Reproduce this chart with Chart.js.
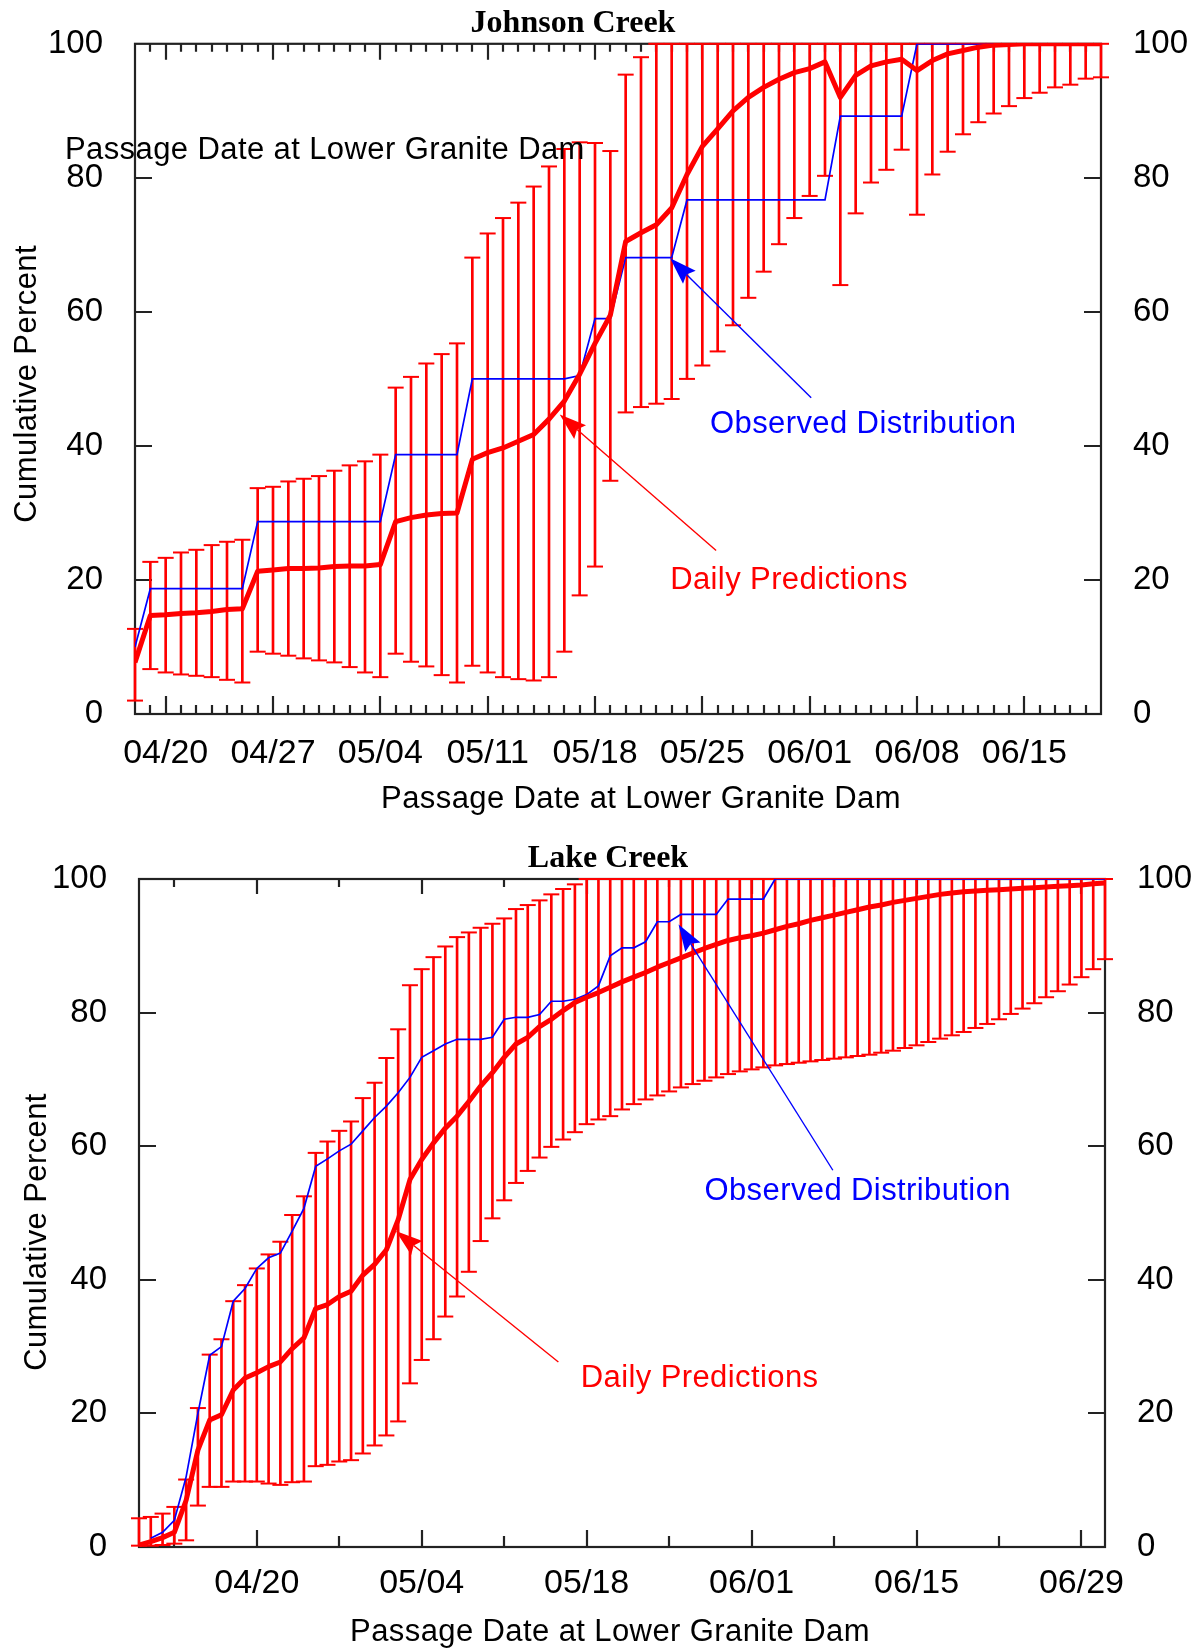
<!DOCTYPE html>
<html>
<head>
<meta charset="utf-8">
<title>Johnson Creek / Lake Creek</title>
<script src="https://cdn.jsdelivr.net/npm/chart.js@4.4.1/dist/chart.umd.min.js"></script>
<style>
  body { margin: 0; background: #fff; }
  canvas { display: block; }
</style>
</head>
<body>
<canvas id="chartJohnson" width="1195" height="820"></canvas>
<canvas id="chartLake" width="1195" height="828"></canvas>
<script>
/**************************************
 * DATA - Johnson Creek (day 0 = 04/18)
 **************************************/
const johnsonPred = [
  7.7, 14.7, 14.8, 15.0, 15.1, 15.3, 15.6, 15.7, 21.3, 21.5,
  21.7, 21.7, 21.8, 22.0, 22.1, 22.1, 22.3, 28.7, 29.3, 29.7,
  29.9, 30.0, 38.0, 39.0, 39.7, 40.7, 41.7, 44.0, 46.7, 50.7,
  55.3, 59.5, 70.5, 71.8, 73.0, 75.5, 80.5, 84.7, 87.3, 90.0,
  92.0, 93.5, 94.7, 95.7, 96.3, 97.3, 92.0, 95.3, 96.7, 97.3,
  97.7, 96.0, 97.5, 98.5, 99.0, 99.5, 99.8, 99.9, 100, 100,
  100, 100, 100, 100
];
const johnsonLow = [
  2.0, 6.7, 6.2, 5.9, 5.7, 5.5, 5.1, 4.7, 9.3, 9.0,
  8.7, 8.3, 8.0, 7.7, 7.0, 6.2, 5.5, 9.0, 7.8, 7.1,
  5.8, 4.7, 7.2, 6.2, 5.5, 5.2, 5.0, 5.5, 9.3, 17.7,
  22.0, 34.8, 45.0, 45.8, 46.3, 47.0, 50.0, 52.0, 54.1, 58.0,
  62.1, 66.0, 70.1, 74.0, 77.3, 80.3, 64.0, 74.7, 79.3, 81.2,
  84.2, 74.5, 80.5, 83.9, 86.5, 88.3, 89.6, 90.7, 91.9, 92.7,
  93.5, 93.9, 94.8, 95.0
];
const johnsonHigh = [
  12.7, 22.7, 23.3, 24.1, 24.5, 25.2, 25.7, 26.0, 33.7, 33.9,
  34.7, 35.1, 35.5, 36.3, 37.1, 37.7, 38.7, 48.7, 50.3, 52.3,
  53.7, 55.3, 68.1, 71.7, 74.0, 76.3, 78.7, 81.7, 84.3, 85.3,
  85.2, 84.0, 95.4, 98.0, 100, 100, 100, 100, 100, 100,
  100, 100, 100, 100, 100, 100, 100, 100, 100, 100,
  100, 100, 100, 100, 100, 100, 100, 100, 100, 100,
  100, 100, 100, 100
];
const johnsonObs = [
  10.0, 18.7, 18.7, 18.7, 18.7, 18.7, 18.7, 18.7, 28.7, 28.7,
  28.7, 28.7, 28.7, 28.7, 28.7, 28.7, 28.7, 38.7, 38.7, 38.7,
  38.7, 38.7, 50.0, 50.0, 50.0, 50.0, 50.0, 50.0, 50.0, 50.5,
  59.0, 59.0, 68.1, 68.1, 68.1, 68.1, 76.7, 76.7, 76.7, 76.7,
  76.7, 76.7, 76.7, 76.7, 76.7, 76.7, 89.2, 89.2, 89.2, 89.2,
  89.2, 100, 100, 100, 100, 100, 100, null, null, null,
  null, null, null, null
];
const johnsonTickDays = [2, 9, 16, 23, 30, 37, 44, 51, 58];
const johnsonTickLabels = ["04/20", "04/27", "05/04", "05/11", "05/18", "05/25", "06/01", "06/08", "06/15"];

/**************************************
 * DATA - Lake Creek (day 0 = 04/10)
 **************************************/
const lakePred = [
  0.3, 0.8, 1.4, 2.2, 7.0, 14.5, 19.0, 19.8, 23.5, 25.3,
  26.1, 27.0, 27.7, 29.7, 31.3, 35.7, 36.3, 37.5, 38.3, 40.7,
  42.3, 44.5, 49.0, 55.0, 58.0, 60.5, 62.7, 64.5, 66.7, 69.0,
  71.0, 73.3, 75.3, 76.3, 77.9, 79.0, 80.3, 81.5, 82.3, 83.0,
  83.8, 84.6, 85.3, 86.0, 86.8, 87.5, 88.2, 88.9, 89.6, 90.2,
  90.8, 91.2, 91.5, 91.9, 92.4, 92.9, 93.3, 93.8, 94.2, 94.6,
  95.0, 95.4, 95.8, 96.1, 96.5, 96.8, 97.1, 97.4, 97.7, 97.9,
  98.1, 98.2, 98.3, 98.4, 98.5, 98.6, 98.7, 98.8, 98.9, 99.0,
  99.1, 99.3, 99.4
];
const lakeLow = [
  0.2, 0.2, 0.3, 0.5, 1.0, 6.2, 9.0, 9.0, 9.8, 9.8,
  9.8, 9.5, 9.3, 9.7, 9.8, 12.1, 12.3, 12.8, 13.0, 14.0,
  15.2, 16.7, 18.8, 24.5, 28.0, 31.1, 34.5, 37.5, 41.2, 45.8,
  49.2, 51.9, 54.5, 56.3, 58.3, 59.9, 61.0, 62.1, 63.3, 64.0,
  64.5, 65.5, 66.3, 67.0, 67.6, 68.2, 68.8, 69.3, 69.8, 70.3,
  70.8, 71.2, 71.5, 71.8, 72.1, 72.3, 72.5, 72.7, 72.9, 73.1,
  73.3, 73.5, 73.7, 74.0, 74.3, 74.7, 75.1, 75.6, 76.1, 76.6,
  77.1, 77.7, 78.3, 79.0, 79.8, 80.6, 81.4, 82.3, 83.2, 84.2,
  85.3, 86.5, 88.0
];
const lakeHigh = [
  4.3, 4.5, 5.0, 6.0, 10.1, 20.8, 28.8, 31.1, 36.8, 39.2,
  41.7, 43.8, 45.7, 49.7, 52.5, 59.0, 60.7, 62.3, 63.7, 67.2,
  69.5, 73.2, 77.5, 84.1, 86.5, 88.3, 89.9, 91.3, 92.0, 92.7,
  93.3, 94.1, 95.5, 96.1, 96.8, 97.7, 98.5, 99.2, 100, 100,
  100, 100, 100, 100, 100, 100, 100, 100, 100, 100,
  100, 100, 100, 100, 100, 100, 100, 100, 100, 100,
  100, 100, 100, 100, 100, 100, 100, 100, 100, 100,
  100, 100, 100, 100, 100, 100, 100, 100, 100, 100,
  100, 100, 100
];
const lakeObs = [
  null, 1.3, 2.2, 4.0, 10.5, 20.0, 28.7, 30.0, 36.8, 38.7,
  41.7, 43.3, 44.0, 47.3, 50.7, 57.0, 58.1, 59.3, 60.3, 62.3,
  64.3, 66.0, 68.0, 70.3, 73.3, 74.3, 75.3, 76.0, 76.0, 76.0,
  76.3, 79.0, 79.3, 79.3, 79.7, 81.7, 81.7, 82.0, 82.7, 84.0,
  88.5, 89.7, 89.7, 90.6, 93.6, 93.6, 94.7, 94.7, 94.7, 94.7,
  97.0, 97.0, 97.0, 97.0, 100, 100, 100, 100, 100, 100,
  100, 100, 100, 100, 100, 100, 100, 100, 100, 100,
  100, 100, 100, 100, 100, 100, 100, 100, 100, 100,
  100, 100, 100
];
const lakeTickDays = [10, 24, 38, 52, 66, 80];
const lakeTickLabels = ["04/20", "05/04", "05/18", "06/01", "06/15", "06/29"];
const lakeMinorDays = [3, 17, 31, 45, 59, 73];

/**************************************
 * STYLES
 **************************************/
const SANS = "'Liberation Sans', Arial, Helvetica, sans-serif";
const SERIF = "'Liberation Serif', 'Times New Roman', serif";
const RED = "#ff0000";
const BLUE = "#0000ff";
const AXIS = "#222222";
const X_TITLE = "Passage Date at Lower Granite Dam";
const Y_TITLE = "Cumulative Percent";

function puntos(arr) {
    return arr.map((v, i) => ({ x: i, y: v }));
}

// marco con ticks hacia adentro (estilo gnuplot)
function pluginMarco(cfg) {
    return {
        id: "marco",
        beforeDatasetsDraw(chart) {
            const { ctx, chartArea: a } = chart;
            const x = chart.scales.x;
            const y = chart.scales.y;
            ctx.save();
            ctx.strokeStyle = AXIS;
            ctx.lineWidth = 2.2;
            ctx.strokeRect(a.left, a.top, a.right - a.left, a.bottom - a.top);
            ctx.beginPath();
            const marcas = (dias, largoAbajo, largoArriba) => dias.forEach(d => {
                const px = Math.round(x.getPixelForValue(d));
                ctx.moveTo(px, a.bottom); ctx.lineTo(px, a.bottom - largoAbajo);
                ctx.moveTo(px, a.top); ctx.lineTo(px, a.top + largoArriba);
            });
            marcas(cfg.majorDays, cfg.majorLen, cfg.majorLenTop);
            marcas(cfg.minorDays, cfg.minorLen, cfg.minorLenTop);
            y.ticks.forEach(t => {
                if (t.value <= y.min || t.value >= y.max) return;
                const py = Math.round(y.getPixelForValue(t.value));
                ctx.moveTo(a.left, py); ctx.lineTo(a.left + cfg.yLen, py);
                ctx.moveTo(a.right, py); ctx.lineTo(a.right - cfg.yLen, py);
            });
            ctx.stroke();
            ctx.restore();
        }
    };
}

// textos, titulos y flechas
function pluginNotas(cfg) {
    return {
        id: "notas",
        afterDatasetsDraw(chart) {
            const { ctx, chartArea: a } = chart;
            const x = chart.scales.x;
            const y = chart.scales.y;
            ctx.save();
            ctx.textBaseline = "alphabetic";
            ctx.fillStyle = "#000";

            ctx.font = "bold 32px " + SERIF;
            ctx.textAlign = "center";
            ctx.fillText(cfg.title, cfg.titleX, a.top - 12);

            ctx.font = "31px " + SANS;
            if ("letterSpacing" in ctx) ctx.letterSpacing = "0.4px";
            ctx.fillText(X_TITLE, cfg.xTitleX, a.bottom + 94);

            ctx.save();
            ctx.translate(cfg.yTitleX, (a.top + a.bottom) / 2 + cfg.yTitleShift);
            ctx.rotate(-Math.PI / 2);
            ctx.fillText(Y_TITLE, 0, 0);
            ctx.restore();

            if (cfg.extra) {
                ctx.textAlign = "left";
                ctx.fillText(cfg.extra.text, cfg.extra.x, cfg.extra.y);
            }

            cfg.arrows.forEach(f => {
                const x1 = x.getPixelForValue(f.from[0]), y1 = y.getPixelForValue(f.from[1]);
                const x2 = x.getPixelForValue(f.to[0]), y2 = y.getPixelForValue(f.to[1]);
                const ang = Math.atan2(y2 - y1, x2 - x1);
                const L = 27, W = 9;
                const c = Math.cos(ang), s = Math.sin(ang);
                const bx = x2 - L * c, by = y2 - L * s;
                const nx = x2 - 0.85 * L * c, ny = y2 - 0.85 * L * s;
                ctx.strokeStyle = f.color;
                ctx.fillStyle = f.color;
                ctx.lineWidth = 1.4;
                ctx.beginPath();
                ctx.moveTo(x1, y1);
                ctx.lineTo(nx, ny);
                ctx.stroke();
                ctx.beginPath();
                ctx.moveTo(x2, y2);
                ctx.lineTo(bx + W * s, by - W * c);
                ctx.lineTo(nx, ny);
                ctx.lineTo(bx - W * s, by + W * c);
                ctx.closePath();
                ctx.fill();

                ctx.textAlign = "left";
                ctx.fillText(f.text, x.getPixelForValue(f.textAt[0]), y.getPixelForValue(f.textAt[1]));
            });
            ctx.restore();
        }
    };
}

function crearGrafica(id, o) {
    const fuenteTicks = { family: SANS, size: 33 };
    const ejeY = (pos, ancho) => ({
        type: "linear",
        position: pos,
        min: 0,
        max: 100,
        grid: { display: false },
        border: { display: false },
        ticks: { stepSize: 20, padding: 24, font: fuenteTicks, color: "#000" },
        afterFit: ax => { ax.width = ancho; }
    });

    return new Chart(document.getElementById(id), {
        type: "line",
        data: {
            datasets: [
                {
                    type: "line",
                    data: puntos(o.pred),
                    borderColor: RED,
                    borderWidth: 5,
                    borderJoinStyle: "round",
                    pointRadius: 0,
                    order: 0
                },
                {
                    type: "line",
                    data: puntos(o.obs),
                    borderColor: BLUE,
                    borderWidth: 1.7,
                    pointRadius: 0,
                    order: 1
                },
                {
                    type: "line",
                    data: puntos(o.high),
                    showLine: false,
                    pointStyle: "line",
                    pointRadius: 8,
                    pointBorderColor: RED,
                    pointBorderWidth: 2,
                    clip: false,
                    order: 2
                },
                {
                    type: "line",
                    data: puntos(o.low),
                    showLine: false,
                    pointStyle: "line",
                    pointRadius: 8,
                    pointBorderColor: RED,
                    pointBorderWidth: 2,
                    clip: false,
                    order: 2
                },
                {
                    type: "bar",
                    data: o.low.map((lo, i) => ({ x: i, y: [lo, o.high[i]] })),
                    backgroundColor: RED,
                    borderWidth: 0,
                    barThickness: 2,
                    clip: false,
                    order: 3
                }
            ]
        },
        options: {
            responsive: false,
            animation: false,
            events: [],
            layout: { padding: { top: o.padTop, left: 0, right: 0, bottom: 0 } },
            plugins: {
                legend: { display: false },
                tooltip: { enabled: false },
                title: { display: false }
            },
            scales: {
                x: {
                    type: "linear",
                    min: 0,
                    max: o.maxDay,
                    offset: false,
                    grid: { display: false },
                    border: { display: false },
                    afterBuildTicks: ax => { ax.ticks = o.tickDays.map(v => ({ value: v })); },
                    ticks: {
                        autoSkip: false,
                        maxRotation: 0,
                        padding: o.xPad,
                        font: { family: SANS, size: 34 },
                        color: "#000",
                        callback: v => o.tickLabels[o.tickDays.indexOf(v)]
                    },
                    afterFit: ax => { ax.height = o.xHeight; }
                },
                y: ejeY("left", o.leftW),
                y2: ejeY("right", o.rightW)
            }
        },
        plugins: [pluginMarco(o.marco), pluginNotas(o.notas)]
    });
}

/**************************************
 * GRAFICAS
 **************************************/
const johnsonMinor = [];
for (let d = 1; d < 63; d++) if (!johnsonTickDays.includes(d)) johnsonMinor.push(d);

crearGrafica("chartJohnson", {
    pred: johnsonPred, low: johnsonLow, high: johnsonHigh, obs: johnsonObs,
    maxDay: 63, tickDays: johnsonTickDays, tickLabels: johnsonTickLabels,
    padTop: 42, xHeight: 106, xPad: 11, leftW: 135, rightW: 94,
    marco: {
        majorDays: johnsonTickDays, minorDays: johnsonMinor,
        majorLen: 18, minorLen: 9, majorLenTop: 16, minorLenTop: 8, yLen: 17
    },
    notas: {
        title: "Johnson Creek", titleX: 573,
        xTitleX: 641, yTitleX: 36, yTitleShift: 5,
        extra: { text: X_TITLE, x: 65, y: 159 },
        arrows: [
            { color: BLUE, from: [44.1, 47.2], to: [34.9, 68.0], text: "Observed Distribution", textAt: [37.5, 42.0] },
            { color: RED, from: [37.9, 24.4], to: [27.7, 44.7], text: "Daily Predictions", textAt: [34.9, 18.7] }
        ]
    }
});

crearGrafica("chartLake", {
    pred: lakePred, low: lakeLow, high: lakeHigh, obs: lakeObs,
    maxDay: 82, tickDays: lakeTickDays, tickLabels: lakeTickLabels,
    padTop: 59, xHeight: 101, xPad: 8, leftW: 139, rightW: 90,
    marco: {
        majorDays: lakeTickDays, minorDays: lakeMinorDays,
        majorLen: 17, minorLen: 11, majorLenTop: 15, minorLenTop: 8, yLen: 17
    },
    notas: {
        title: "Lake Creek", titleX: 608,
        xTitleX: 610, yTitleX: 46, yTitleShift: 19,
        extra: null,
        arrows: [
            { color: BLUE, from: [58.9, 56.4], to: [45.8, 93.2], text: "Observed Distribution", textAt: [48.0, 51.9] },
            { color: RED, from: [35.6, 27.7], to: [21.8, 47.3], text: "Daily Predictions", textAt: [37.5, 23.9] }
        ]
    }
});
</script>
</body>
</html>
